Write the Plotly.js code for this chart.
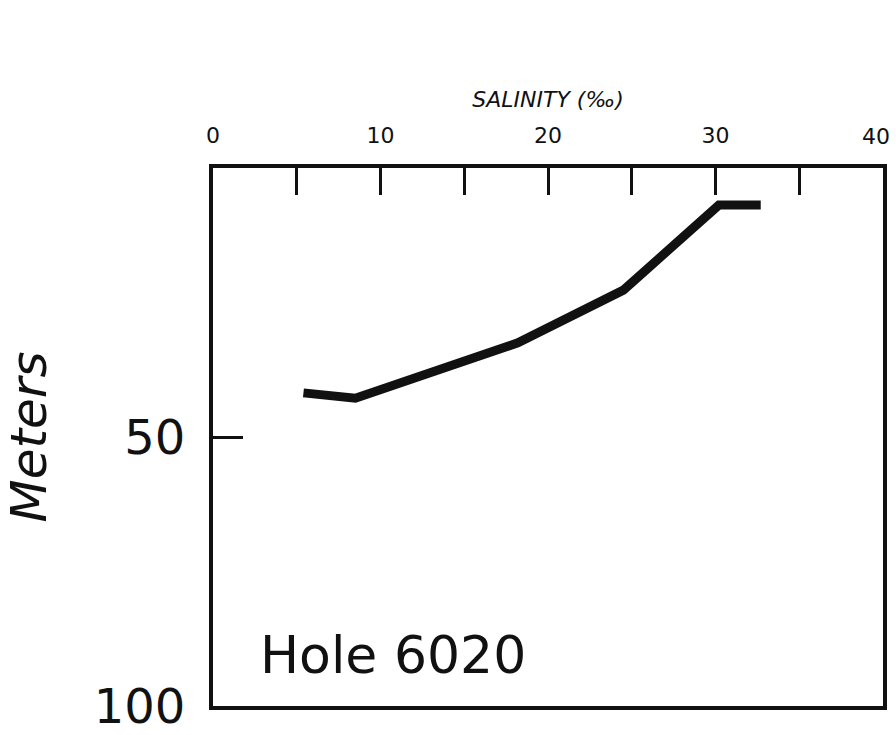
<!DOCTYPE html>
<html>
<head>
<meta charset="utf-8">
<script src="https://cdn.plot.ly/plotly-3.0.1.min.js"></script>
<style>
  html, body { margin: 0; padding: 0; background: #ffffff; }
  #chart { width: 896px; height: 735px; }
</style>
</head>
<body>
<div id="chart"></div>
<script>
// Salinity profile, Hole 6020 (salinity in per mil vs. depth in meters)
const salinity = [5.4, 8.5, 18.2, 24.5, 30.2, 32.7];
const depth    = [41.8, 42.8, 32.5, 22.7, 6.9, 6.9];

const salinityTicks = [0, 10, 20, 30];
const salinityTickText = ['0', '10', '20', '30'];
// the last salinity label sits against the right frame, so it gets its own axis
const salinityEndTick = [40];
const salinityEndText = ['40'];
const depthTicks = [50, 100];
const depthTickText = ['50', '100'];

const ink = '#111111';
const tickFont = { family: 'DejaVu Sans', size: 22, color: ink };

const profile = {
  x: salinity,
  y: depth,
  type: 'scatter',
  mode: 'lines',
  line: { color: ink, width: 9, shape: 'linear' },
  hoverinfo: 'skip',
  showlegend: false
};

// empty trace that anchors the overlay axis carrying the end label
const endAxisAnchor = {
  x: [], y: [],
  xaxis: 'x2', yaxis: 'y',
  type: 'scatter', mode: 'lines',
  hoverinfo: 'skip', showlegend: false
};

const layout = {
  width: 896,
  height: 735,
  paper_bgcolor: '#ffffff',
  plot_bgcolor: '#ffffff',
  margin: { l: 213, r: 13, t: 168, b: 29, autoexpand: false },
  showlegend: false,
  xaxis: {
    side: 'top',
    range: [0, 40],
    tickvals: salinityTicks,
    ticktext: salinityTickText,
    ticks: 'inside',
    ticklen: 27,
    tickwidth: 3,
    tickcolor: ink,
    minor: { dtick: 5, tick0: 0, ticks: 'inside', ticklen: 27, tickwidth: 3, tickcolor: ink },
    showgrid: false,
    zeroline: false,
    showline: true,
    linecolor: ink,
    linewidth: 4,
    mirror: true,
    tickfont: tickFont,
    ticklabelstandoff: 12,
    ticklabeloverflow: 'allow',
    title: {
      text: 'SALINITY (‰)',
      font: { family: 'DejaVu Sans', size: 22, color: ink, style: 'italic' },
      standoff: 11
    },
    automargin: false,
    fixedrange: true
  },
  xaxis2: {
    overlaying: 'x',
    anchor: 'y',
    side: 'top',
    range: [0, 40],
    tickvals: salinityEndTick,
    ticktext: salinityEndText,
    ticks: '',
    ticklabelshift: -7,
    ticklabelstandoff: 19,
    ticklabeloverflow: 'allow',
    tickfont: tickFont,
    showline: false,
    showgrid: false,
    zeroline: false,
    automargin: false,
    fixedrange: true
  },
  yaxis: {
    range: [100, 0],
    tickvals: depthTicks,
    ticktext: depthTickText,
    ticks: 'inside',
    ticklen: 30,
    tickwidth: 3,
    tickcolor: ink,
    showgrid: false,
    zeroline: false,
    showline: true,
    linecolor: ink,
    linewidth: 4,
    mirror: true,
    tickfont: { family: 'DejaVu Sans', size: 48, color: ink },
    ticklabelstandoff: 14,
    ticklabeloverflow: 'allow',
    title: {
      text: 'Meters',
      font: { family: 'DejaVu Sans', size: 50, color: ink, style: 'italic' },
      standoff: 48
    },
    automargin: false,
    fixedrange: true
  },
  annotations: [{
    text: 'Hole 6020',
    xref: 'paper', yref: 'paper',
    x: 0.268, y: 0.095,
    xanchor: 'center', yanchor: 'middle',
    showarrow: false,
    font: { family: 'DejaVu Sans', size: 52, color: ink }
  }]
};

Plotly.newPlot('chart', [profile, endAxisAnchor], layout, { staticPlot: true, displayModeBar: false });
</script>
</body>
</html>
